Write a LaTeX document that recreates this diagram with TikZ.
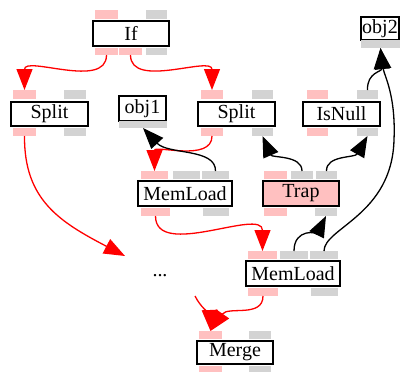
\documentclass[tikz,border=0pt]{standalone}
\usepackage{fontspec}
\setmainfont{Liberation Serif}
\usetikzlibrary{arrows.meta}
\definecolor{pk}{RGB}{255,192,192}
\definecolor{gr}{RGB}{211,211,211}
\tikzset{
  portbox/.style={draw=none,inner sep=0pt,outer sep=0pt},
  opbox/.style={draw=black,line width=1.6pt,inner sep=0pt,outer sep=0pt,font=\fontsize{20}{22}\selectfont},
  redE/.style={draw=red,line width=1.3pt,-{Triangle[length=21pt,width=16pt]},red},
  blkE/.style={draw=black,line width=1.3pt,-{Triangle[length=21pt,width=16pt]}},
}
\newcommand{\mkport}[6]{\node[portbox,fill=#2,minimum width={(#4)-(#3)},minimum height={(#6)-(#5)}] (#1) at ({((#3)+(#4))/2},{((#5)+(#6))/2}) {};}
\newcommand{\mkbox}[7]{\node[opbox,#2,minimum width={(#5)-(#4)},minimum height={(#7)-(#6)}] (#1) at ({((#4)+(#5))/2},{((#6)+(#7))/2}) {#3};}
\begin{document}
\begin{tikzpicture}[x=1pt,y=-1pt]
\useasboundingbox (0,0) rectangle (400,372);
% If
\mkport{ifT1}{pk}{95}{118}{10}{19}
\mkport{ifT2}{gr}{146}{167}{10}{19}
\mkbox{if}{fill=white}{If}{93}{169}{21}{46}
\mkport{ifB1}{pk}{95}{118}{48}{55}
\mkport{ifB2}{pk}{119}{142}{48}{55}
\mkport{ifB3}{gr}{146}{167}{48}{55}
% Split left
\mkport{sLT1}{pk}{13}{36}{90}{99}
\mkport{sLT2}{gr}{64}{86}{90}{99}
\mkbox{splitL}{fill=white}{Split}{11}{88}{102}{126}
\mkport{sLB1}{pk}{13}{36}{128}{136}
\mkport{sLB2}{gr}{64}{86}{128}{136}
% obj1
\mkbox{obj1}{fill=white}{obj1}{119}{166}{96}{121}
\mkport{obj1B}{gr}{119}{167}{121}{128}
% Split right
\mkport{sRT1}{pk}{201}{223}{90}{99}
\mkport{sRT2}{gr}{252}{273}{90}{99}
\mkbox{splitR}{fill=white}{Split}{198}{275}{102}{126}
\mkport{sRB1}{pk}{201}{223}{128}{136}
\mkport{sRB2}{gr}{252}{273}{128}{136}
% IsNull
\mkport{inT1}{pk}{307}{328}{90}{99}
\mkport{inT2}{gr}{357}{378}{90}{99}
\mkbox{isnull}{fill=white}{IsNull}{303}{380}{102}{126}
\mkport{inB1}{pk}{307}{328}{128}{136}
\mkport{inB2}{gr}{357}{378}{128}{136}
% obj2
\mkbox{obj2}{fill=white}{obj2}{361}{399}{17}{40}
\mkport{obj2B}{gr}{361}{400}{40}{48}
% MemLoad 1
\mkport{m1T1}{pk}{141}{168}{171}{179}
\mkport{m1T2}{gr}{173}{200}{171}{179}
\mkport{m1T3}{gr}{202}{229}{171}{179}
\mkbox{mem1}{fill=white}{MemLoad}{138}{232}{181}{206}
\mkport{m1B1}{pk}{141}{170}{208}{216}
\mkport{m1B2}{gr}{203}{229}{208}{216}
% Trap
\mkport{trT1}{pk}{264}{287}{171}{179}
\mkport{trT2}{gr}{291}{313}{171}{179}
\mkport{trT3}{gr}{316}{337}{171}{179}
\mkbox{trap}{fill=pk}{Trap}{263}{339}{181}{206}
\mkport{trB1}{pk}{264}{287}{208}{216}
\mkport{trB2}{gr}{315}{337}{208}{216}
% MemLoad 2
\mkport{m2T1}{pk}{248}{277}{251}{259}
\mkport{m2T2}{gr}{280}{308}{251}{259}
\mkport{m2T3}{gr}{310}{338}{251}{259}
\mkbox{mem2}{fill=white}{MemLoad}{246}{340}{261}{286}
\mkport{m2B1}{pk}{248}{278}{288}{296}
\mkport{m2B2}{gr}{311}{338}{288}{296}
% Merge
\mkport{mgT1}{pk}{199}{222}{331}{339}
\mkport{mgT2}{gr}{249}{271}{331}{339}
\mkbox{merge}{fill=white}{Merge}{197}{273}{341}{364}
\mkport{mgB1}{pk}{199}{222}{366}{372}
\mkport{mgB2}{gr}{249}{271}{366}{372}
% dots
\node[inner sep=0pt,outer sep=0pt,minimum width=70,minimum height=40,font=\fontsize{20}{22}\selectfont] (dots) at (160,276) {...};
% red edges
\draw[redE] (ifB1.south) to[out=-90,in=90] (sLT1.north);
\draw[redE] (ifB2.south) to[out=-90,in=90] (sRT1.north);
\draw[redE] (sLB1.south) .. controls (24,200) and (60,222) .. (dots.north west);
\draw[redE] (sRB1.south) to[out=-90,in=90] (m1T1.north);
\draw[redE] (m1B1.south) to[out=-90,in=90] (m2T1.north);
\draw[redE] (dots.south east) .. controls (200,306) and (210,316) .. (mgT1.north);
\draw[redE] (m2B1.south) .. controls (263,318) and (228,306) .. (mgT1.north);
% black edges
\draw[blkE] (m1T3.north) .. controls (216,148) and (168,155) .. (obj1B.south);
\draw[blkE] (trT2.north) .. controls (302,155) and (272,158) .. (sRB2.south);
\draw[blkE] (trT3.north) .. controls (326,155) and (355,158) .. (inB2.south);
\draw[blkE] (m2T2.north) .. controls (294,228) and (318,232) .. (trB2.south);
\draw[blkE] (inT2.north) .. controls (367,72) and (382,72) .. (obj2B.south);
\draw[blkE] (m2T3.north) .. controls (324,228) and (392,215) .. (394,140) .. controls (396,95) and (384,75) .. (obj2B.south);
\end{tikzpicture}
\end{document}
